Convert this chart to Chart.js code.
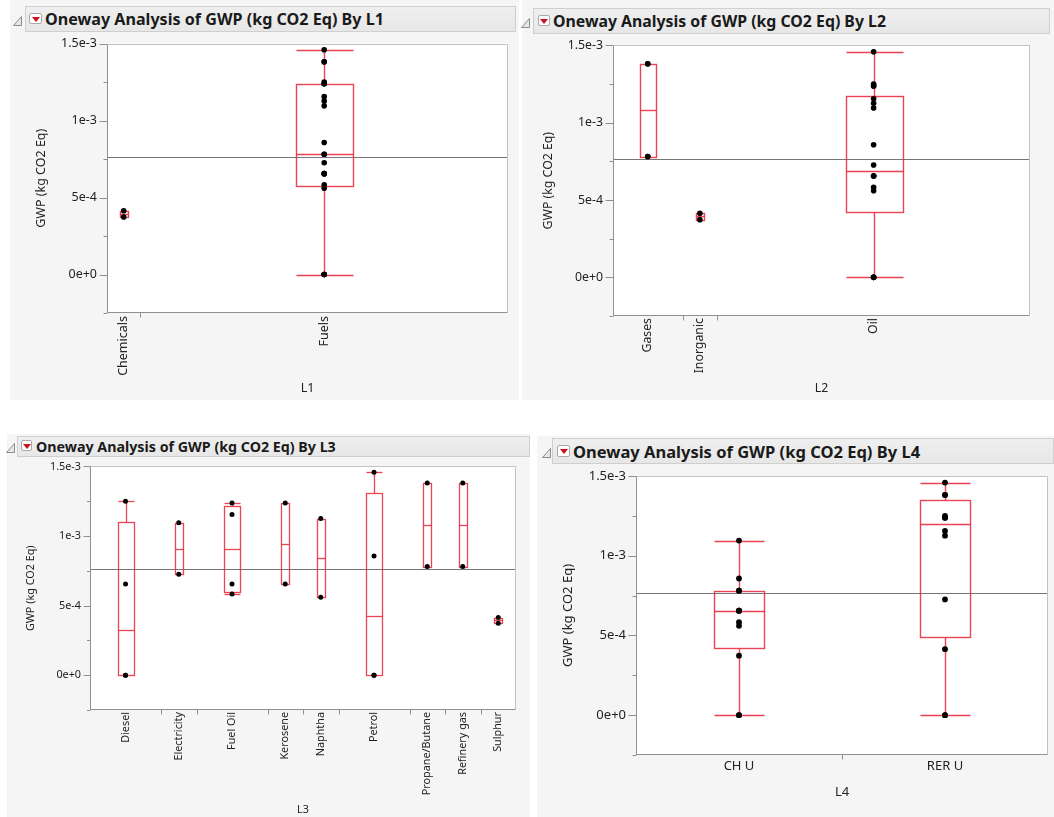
<!DOCTYPE html>
<html>
<head>
<meta charset="utf-8">
<script src="https://cdn.jsdelivr.net/npm/chart.js@4.4.1/dist/chart.umd.min.js"></script>
<style>
  body { margin: 0; width: 1054px; height: 817px; background: #fff; position: relative; overflow: hidden; font-family: 'Noto Sans', 'DejaVu Sans', sans-serif; }
  .panel { position: absolute; background: #f5f5f5; }
  .hdr { position: absolute; box-sizing: border-box; border: 1px solid #cfcfcf; background: linear-gradient(#efefef, #e7e7e7);
         display: flex; align-items: center; font-weight: bold; color: #1a1a1a; white-space: nowrap; overflow: hidden; }
  .ico { position: absolute; box-sizing: border-box; border: 1px solid #a9a9a9; border-radius: 2px; background: #fff; }
  .ico::after { content: ''; position: absolute; left: 50%; top: 50%; transform: translate(-50%, -40%);
                border-left: 4px solid transparent; border-right: 4px solid transparent; border-top: 5px solid #cc1020; }
  .disc { position: absolute; }
  canvas { position: absolute; }
</style>
</head>
<body>
<script>
// ─── data: one row per observation (24 rows) ───
const gwp = [0, 0, 0, 0, 3.73e-4, 4.14e-4, 5.60e-4, 5.83e-4, 6.55e-4, 6.55e-4, 6.55e-4, 7.26e-4,
             7.81e-4, 7.81e-4, 8.57e-4, 1.095e-3, 1.126e-3, 1.155e-3, 1.238e-3, 1.238e-3, 1.250e-3, 1.381e-3, 1.381e-3, 1.459e-3];
const l1 = ['Fuels','Fuels','Fuels','Fuels','Chemicals','Chemicals','Fuels','Fuels','Fuels','Fuels','Fuels','Fuels',
            'Fuels','Fuels','Fuels','Fuels','Fuels','Fuels','Fuels','Fuels','Fuels','Fuels','Fuels','Fuels'];
const l2 = ['Oil','Oil','Oil','Oil','Inorganic','Inorganic','Oil','Oil','Oil','Oil','Oil','Oil',
            'Gases','Gases','Oil','Oil','Oil','Oil','Oil','Oil','Oil','Gases','Gases','Oil'];
const l3 = ['Diesel','Diesel','Petrol','Petrol','Sulphur','Sulphur','Naphtha','Fuel Oil','Diesel','Fuel Oil','Kerosene','Electricity',
            'Propane/Butane','Refinery gas','Petrol','Electricity','Naphtha','Fuel Oil','Fuel Oil','Kerosene','Diesel','Propane/Butane','Refinery gas','Petrol'];
const l4 = ['CH U','RER U','CH U','RER U','CH U','RER U','CH U','CH U','CH U','CH U','CH U','RER U',
            'CH U','CH U','CH U','CH U','RER U','RER U','RER U','RER U','RER U','RER U','RER U','RER U'];

// category order on each x axis
const l1Groups = ['Chemicals', 'Fuels'];
const l2Groups = ['Gases', 'Inorganic', 'Oil'];
const l3Groups = ['Diesel', 'Electricity', 'Fuel Oil', 'Kerosene', 'Naphtha', 'Petrol', 'Propane/Butane', 'Refinery gas', 'Sulphur'];
const l4Groups = ['CH U', 'RER U'];

// y axis
const yMin = -2.5e-4, yMax = 1.5e-3;
const yTicks = [0, 5e-4, 1e-3, 1.5e-3];
const yTickLabels = ['0e+0', '5e-4', '1e-3', '1.5e-3'];
const yMinor = [-2.5e-4, 2.5e-4, 7.5e-4, 1.25e-3];
const yTitle = 'GWP (kg CO2 Eq)';

const FONT = "'Noto Sans', 'DejaVu Sans', sans-serif";
const boxColor = 'rgba(232,48,66,0.9)';
const textColor = '#222';

// ─── stats helpers (JMP style quantiles) ───
function quant(s, p) {
  const n = s.length, h = p * (n + 1);
  if (h <= 1) return s[0];
  if (h >= n) return s[n - 1];
  const k = Math.floor(h);
  return s[k - 1] + (h - k) * (s[k] - s[k - 1]);
}
function boxStats(vals) {
  const s = vals.slice().sort((a, b) => a - b);
  const q1 = quant(s, 0.25), med = quant(s, 0.5), q3 = quant(s, 0.75), iqr = q3 - q1;
  const lo = s.find(v => v >= q1 - 1.5 * iqr);
  const hi = s.slice().reverse().find(v => v <= q3 + 1.5 * iqr);
  return { q1, med, q3, lo, hi };
}
const grandMean = gwp.reduce((a, v) => a + v, 0) / gwp.length;

function groupsFor(names, obs) {
  let start = 0;
  return names.map(name => {
    const vals = gwp.filter((v, i) => obs[i] === name);
    const g = { name, start, end: start + vals.length, center: start + vals.length / 2, stats: boxStats(vals) };
    start += vals.length;
    return g;
  });
}

function line(ctx, x1, y1, x2, y2) { ctx.beginPath(); ctx.moveTo(x1, y1); ctx.lineTo(x2, y2); ctx.stroke(); }

// ─── box plot + frame plugin ───
const onewayPlugin = {
  id: 'oneway',
  beforeDraw(chart) {
    const { ctx, chartArea: a } = chart;
    ctx.save();
    ctx.fillStyle = '#fff';
    ctx.fillRect(a.left, a.top, a.right - a.left, a.bottom - a.top);
    ctx.restore();
  },
  beforeDatasetsDraw(chart, args, o) {
    const { ctx, chartArea: a, scales: { x, y } } = chart;
    const Y = v => Math.round(y.getPixelForValue(v)) + 0.5;
    ctx.save();
    ctx.lineWidth = 1;
    ctx.strokeStyle = '#767676';
    line(ctx, a.left, Y(grandMean), a.right, Y(grandMean));

    ctx.strokeStyle = boxColor;
    ctx.lineWidth = o.lw;
    o.groups.forEach(g => {
      const cx = Math.round(x.getPixelForValue(g.center)) + 0.5;
      const w = Math.min(0.25 * (x.getPixelForValue(g.end) - x.getPixelForValue(g.start)), o.maxBox);
      const l = Math.round(cx - w / 2) + 0.5, r = Math.round(cx + w / 2) - 0.5;
      const st = g.stats;
      ctx.strokeRect(l, Y(st.q3), r - l, Y(st.q1) - Y(st.q3));
      line(ctx, l, Y(st.med), r, Y(st.med));
      if (st.hi > st.q3) { line(ctx, cx, Y(st.q3), cx, Y(st.hi)); line(ctx, l, Y(st.hi), r, Y(st.hi)); }
      if (st.lo < st.q1) { line(ctx, cx, Y(st.q1), cx, Y(st.lo)); line(ctx, l, Y(st.lo), r, Y(st.lo)); }
    });
    ctx.restore();
  },
  afterDraw(chart, args, o) {
    const { ctx, chartArea: a, scales: { x, y } } = chart;
    const L = Math.round(a.left) + 0.5, R = Math.round(a.right) - 0.5;
    const T = Math.round(a.top) + 0.5, B = Math.round(a.bottom) - 0.5;
    ctx.save();
    ctx.lineWidth = 1;
    ctx.strokeStyle = '#c2c2c2';
    line(ctx, L, T, R, T); line(ctx, R, T, R, B);
    ctx.strokeStyle = '#909090';
    line(ctx, L, T, L, B + 0.5); line(ctx, L, B, R, B);
    yTicks.forEach(v => { const yy = Math.round(y.getPixelForValue(v)) + 0.5; line(ctx, L - o.tick, yy, L, yy); });
    yMinor.forEach(v => { const yy = Math.round(y.getPixelForValue(v)) + 0.5; line(ctx, L - o.tick / 2, yy, L, yy); });
    o.groups.slice(1).forEach(g => {
      const xx = Math.round(x.getPixelForValue(g.start)) + 0.5;
      line(ctx, xx, B, xx, B + 5);
    });
    ctx.restore();
  }
};

// ─── panel layout (page pixels) ───
const panels = [
  { key: 'L1', groups: l1Groups, obs: l1,
    bg: [10, 0, 509, 400], hdr: [25, 6, 491, 26], ico: [29, 13, 13, 11], titleX: 45, titleW: 339, disc: [13, 10],
    canvas: [10, 34, 509, 366], plot: [107, 43, 508, 313], font: 12.5, yTitleX: 41, xTitleY: 388.5,
    rot: 90, labPad: 3, tick: 8, dot: 2.8, maxBox: 58, lw: 1.4 },
  { key: 'L2', groups: l2Groups, obs: l2,
    bg: [522, 0, 532, 400], hdr: [533, 8, 517, 26], ico: [538, 15, 12, 11], titleX: 553, titleW: 333, disc: [521, 12],
    canvas: [522, 36, 532, 364], plot: [613, 45, 1030, 316], font: 12.3, yTitleX: 548, xTitleY: 388,
    rot: 90, labPad: 2, tick: 8, dot: 2.8, maxBox: 58, lw: 1.4 },
  { key: 'L3', groups: l3Groups, obs: l3,
    bg: [7, 434, 523, 383], hdr: [17, 436, 513, 21], ico: [21, 440, 11, 11], titleX: 36, titleW: 300, disc: [6, 437],
    canvas: [7, 458, 523, 359], plot: [90, 466, 516, 710], font: 10.8, yTitleX: 31, xTitleY: 810,
    rot: 90, labPad: 2, tick: 7, dot: 2.5, maxBox: 50, lw: 1.3 },
  { key: 'L4', groups: l4Groups, obs: l4,
    bg: [537, 436, 517, 381], hdr: [552, 438, 502, 26], ico: [557, 445, 13, 12], titleX: 573, titleW: 347, disc: [542, 442],
    canvas: [537, 466, 517, 351], plot: [636, 476, 1048, 755], font: 13, yTitleX: 568, xTitleY: 792,
    rot: 0, labPad: 3, tick: 8, dot: 2.9, maxBox: 60, lw: 1.4 }
];

const measureCtx = document.createElement('canvas').getContext('2d');
function fitFont(text, target) {
  measureCtx.font = 'bold 100px ' + FONT;
  return 100 * target / measureCtx.measureText(text).width;
}

function place(el, r) {
  el.style.left = r[0] + 'px'; el.style.top = r[1] + 'px';
  if (r[2] != null) el.style.width = r[2] + 'px';
  if (r[3] != null) el.style.height = r[3] + 'px';
  document.body.appendChild(el);
  return el;
}

function makePanel(p) {
  const bg = document.createElement('div'); bg.className = 'panel'; place(bg, p.bg);

  const title = 'Oneway Analysis of GWP (kg CO2 Eq) By ' + p.key;
  const hdr = document.createElement('div'); hdr.className = 'hdr';
  hdr.style.paddingLeft = (p.titleX - p.hdr[0] - 1) + 'px';
  hdr.style.fontSize = fitFont(title, p.titleW).toFixed(2) + 'px';
  hdr.textContent = title;
  place(hdr, p.hdr);

  const ico = document.createElement('div'); ico.className = 'ico'; place(ico, p.ico);

  const disc = document.createElement('div'); disc.className = 'disc';
  disc.innerHTML = '<svg width="10" height="11"><polygon points="8.5,0.5 8.5,9.5 0.5,9.5" fill="#e6e6e6" stroke="#8c8c8c" stroke-width="1"/></svg>';
  place(disc, [p.disc[0], p.disc[1]]);

  const cv = document.createElement('canvas');
  cv.width = p.canvas[2]; cv.height = p.canvas[3];
  place(cv, [p.canvas[0], p.canvas[1]]);

  const groups = groupsFor(p.groups, p.obs);
  const centerOf = {};
  groups.forEach(g => { centerOf[g.name] = g.center; });
  const cl = p.canvas[0], ct = p.canvas[1], cr = cl + p.canvas[2], cb = ct + p.canvas[3];
  const [pl, pt, pr, pb] = p.plot;
  const lh = p.font * 1.2;
  const font = { family: FONT, size: p.font, lineHeight: 1.2 };

  new Chart(cv, {
    type: 'scatter',
    data: {
      datasets: [{
        data: gwp.map((v, i) => ({ x: centerOf[p.obs[i]], y: v })),
        pointRadius: p.dot, pointHoverRadius: p.dot,
        backgroundColor: '#000', borderWidth: 0, clip: false
      }]
    },
    options: {
      responsive: false, animation: false, events: [],
      layout: { padding: { left: 0, top: pt - ct, right: cr - pr, bottom: 0 } },
      plugins: {
        legend: { display: false }, tooltip: { enabled: false },
        oneway: { groups, tick: p.tick, maxBox: p.maxBox, lw: p.lw }
      },
      scales: {
        x: {
          type: 'linear', min: 0, max: gwp.length, bounds: 'data',
          afterBuildTicks: s => { s.ticks = groups.map(g => ({ value: g.center })); },
          afterFit: s => { s.height = cb - pb; },
          grid: { display: false, drawTicks: false }, border: { display: false },
          ticks: { autoSkip: false, minRotation: p.rot, maxRotation: p.rot, padding: p.labPad,
                   font, color: textColor, callback: (v, i) => groups[i].name },
          title: { display: true, text: p.key, font, color: textColor,
                   padding: { top: 0, bottom: cb - p.xTitleY - lh / 2 } }
        },
        y: {
          type: 'linear', min: yMin, max: yMax, bounds: 'data',
          afterBuildTicks: s => { s.ticks = yTicks.map(v => ({ value: v })); },
          afterFit: s => { s.width = pl - cl; },
          grid: { display: false, drawTicks: true, tickLength: p.tick }, border: { display: false },
          ticks: { padding: 2, font, color: textColor, callback: (v, i) => yTickLabels[i] },
          title: { display: true, text: yTitle, font, color: textColor,
                   padding: { top: p.yTitleX - cl - lh / 2, bottom: 0 } }
        }
      }
    },
    plugins: [onewayPlugin]
  });
}

panels.forEach(makePanel);
</script>
</body>
</html>
